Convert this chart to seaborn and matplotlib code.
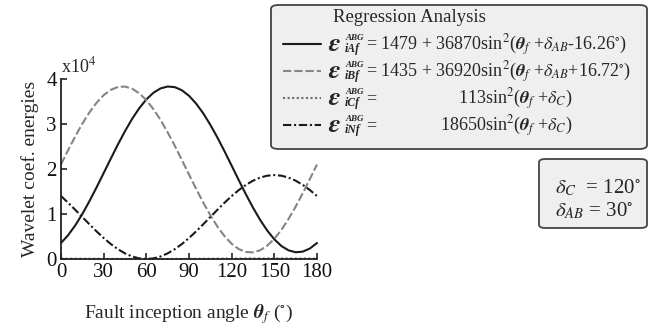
import numpy as np
import pandas as pd
import matplotlib
matplotlib.use("Agg")
import matplotlib.pyplot as plt
import seaborn as sns
from matplotlib.patches import FancyBboxPatch
from matplotlib.lines import Line2D

# ---- data (5 degree steps) ----
theta = list(range(0, 181, 5))
e_A = [3560, 5290, 7460, 10000, 12860, 15910, 19100, 22300, 25440, 28410, 31130, 33500,
       35460, 36950, 37910, 38330, 38190, 37500, 36270, 34540, 32380, 29820, 26980, 23920,
       20730, 17520, 14380, 11410, 8700, 6330, 4370, 2880, 1920, 1500, 1640, 2330, 3560]
e_B = [21000, 24190, 27240, 30070, 32590, 34720, 36410, 37590, 38230, 38320, 37850, 36830,
       35300, 33300, 30890, 28150, 25160, 22000, 18780, 15600, 12550, 9720, 7200, 5070,
       3380, 2200, 1560, 1470, 1940, 2960, 4490, 6490, 8900, 11640, 14630, 17780, 21000]
e_C = [85, 76, 66, 57, 47, 37, 28, 20, 13, 8, 3, 1, 0, 1, 3, 8, 13, 20, 28, 37, 47, 57, 66,
       76, 85, 93, 100, 105, 110, 112, 113, 112, 110, 105, 100, 93, 85]
e_N = [13990, 12510, 10940, 9330, 7710, 6140, 4660, 3330, 2180, 1250, 560, 140, 0, 140, 560,
       1250, 2180, 3330, 4660, 6140, 7710, 9330, 10940, 12510, 13990, 15320, 16470, 17400,
       18090, 18510, 18650, 18510, 18090, 17400, 16470, 15320, 13990]
series_names = ["A", "B", "C", "N"]
sub_labels = ["iAf", "iBf", "iCf", "iNf"]
x_ticks = [0, 30, 60, 90, 120, 150, 180]
y_ticks = [0, 10000, 20000, 30000, 40000]
y_ticklabels = ["0", "1", "2", "3", "4"]

sns.set_style("ticks")
plt.rcParams["font.family"] = ["Liberation Serif", "DejaVu Serif"]
plt.rcParams["mathtext.fontset"] = "stix"

df = pd.concat([
    pd.DataFrame({"theta": theta, "E": vals, "s": name})
    for name, vals in zip(series_names, [e_A, e_B, e_C, e_N])
])

W, H = 654, 324
fig = plt.figure(figsize=(W / 100, H / 100), dpi=100)
ax = fig.add_axes([61 / W, 1 - 259 / H, (317 - 61) / W, (259 - 79) / H])

palette = {"A": "#1a1a1a", "B": "#858585", "C": "#6a6a6a", "N": "#1a1a1a"}
dashes = {"A": "", "B": (4, 1.4), "C": (1, 1.2), "N": (4, 1.3, 1, 1.3)}
sns.lineplot(data=df, x="theta", y="E", hue="s", style="s", palette=palette,
             dashes=dashes, legend=False, ax=ax, linewidth=1.5)
for ln in ax.get_lines():
    ln.set_clip_on(False)

ax.set_xlim(0, 180)
ax.set_ylim(0, 40000)
ax.set_xticks(x_ticks)
ax.set_yticks(y_ticks)
ax.set_yticklabels(y_ticklabels)
sns.despine(ax=ax, top=True, right=True)
for sp in ["left", "bottom"]:
    ax.spines[sp].set_linewidth(1.3)
    ax.spines[sp].set_color("#222222")
ax.tick_params(direction="in", length=4, width=1.1, labelsize=15, pad=3, colors="#111111")
ax.set_xlabel(r"Fault inception angle $\mathbfit{\theta}_f$ ($^{\circ}$)", fontsize=14, labelpad=14)
ax.set_ylabel("Wavelet coef. energies", fontsize=14, labelpad=5)
ax.text(0.0, 1.015, r"x10$^4$", transform=ax.transAxes, fontsize=13, ha="left", va="bottom")


def fx(x):
    return x / W


def fy(y):
    return 1 - y / H


# main legend box
box = FancyBboxPatch((fx(271), fy(149)), fx(647) - fx(271), fy(5) - fy(149),
                     boxstyle="round,pad=0,rounding_size=0.012", transform=fig.transFigure,
                     facecolor="#efefef", edgecolor="#444444", linewidth=1.3)
fig.patches.append(box)
fig.text(fx(333), fy(17), "Regression Analysis", fontsize=13.5, ha="left", va="center")

rows_y = [44, 71, 98, 125]
rhs = [r"= 1479 + 36870sin$^2$($\mathbfit{\theta}_f$ +$\delta_{AB}$-16.26$^{\circ}$)",
       r"= 1435 + 36920sin$^2$($\mathbfit{\theta}_f$ +$\delta_{AB}$+16.72$^{\circ}$)",
       r"113sin$^2$($\mathbfit{\theta}_f$ +$\delta_C$)",
       r"18650sin$^2$($\mathbfit{\theta}_f$ +$\delta_C$)"]
EQ_FS = 13.0
for i, name in enumerate(series_names):
    y = rows_y[i]
    d = dashes[name]
    ln = Line2D([fx(283), fx(321)], [fy(y), fy(y)], transform=fig.transFigure,
                color=palette[name], linewidth=1.5)
    if d:
        ln.set_dashes(d)
    fig.lines.append(ln)
    fig.text(fx(328), fy(y + 1), r"$\mathbfit{\varepsilon}$", fontsize=19, ha="left", va="center")
    fig.text(fx(345), fy(y - 6), "ABG", fontsize=6.5, fontstyle="italic", fontweight="bold",
             ha="left", va="center")
    fig.text(fx(345), fy(y + 5), sub_labels[i], fontsize=8.5, fontstyle="italic", fontweight="bold",
             ha="left", va="center")
    if i < 2:
        fig.text(fx(366), fy(y + 1), rhs[i], fontsize=EQ_FS, ha="left", va="center")
    else:
        fig.text(fx(366), fy(y + 1), "=", fontsize=EQ_FS, ha="left", va="center")
        fig.text(fx(572), fy(y + 1), rhs[i], fontsize=EQ_FS, ha="right", va="center")

# delta box
box2 = FancyBboxPatch((fx(539), fy(228)), fx(647) - fx(539), fy(159) - fy(228),
                      boxstyle="round,pad=0,rounding_size=0.01", transform=fig.transFigure,
                      facecolor="#efefef", edgecolor="#444444", linewidth=1.3)
fig.patches.append(box2)
fig.text(fx(555), fy(188), r"$\delta_C$  = 120$^{\circ}$", fontsize=15, ha="left", va="center")
fig.text(fx(555), fy(211), r"$\delta_{AB}$ = 30$^{\circ}$", fontsize=15, ha="left", va="center")

fig.savefig("out.png", dpi=100)
